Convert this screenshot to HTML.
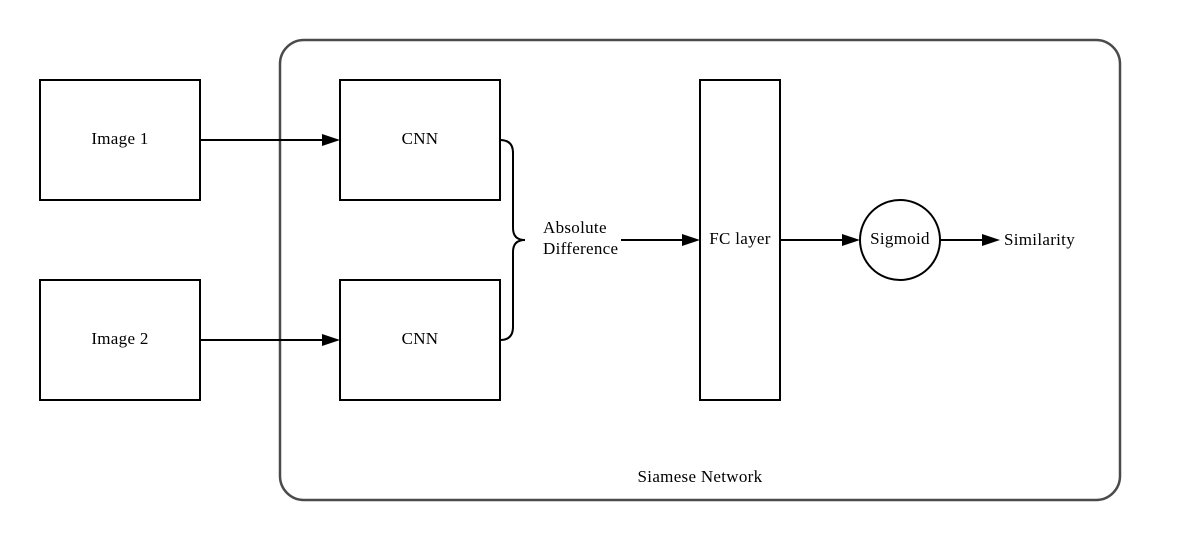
<!DOCTYPE html>
<html><head><style>html,body{margin:0;padding:0;background:#fff}svg{display:block}</style></head>
<body>
<svg width="1200" height="540" viewBox="0 0 1200 540" xmlns="http://www.w3.org/2000/svg" font-family="'Liberation Serif', serif" font-size="17" letter-spacing="0.3" fill="#000">
<rect x="0" y="0" width="1200" height="540" fill="#fff"/>
<rect x="280" y="40" width="840" height="460" rx="24" fill="none" stroke="#4a4a4a" stroke-width="2.5"/>
<g fill="none" stroke="#000" stroke-width="2">
<rect x="40" y="80" width="160" height="120"/>
<rect x="40" y="280" width="160" height="120"/>
<rect x="340" y="80" width="160" height="120"/>
<rect x="340" y="280" width="160" height="120"/>
<rect x="700" y="80" width="80" height="320"/>
<circle cx="900" cy="240" r="40"/>
<path d="M500,140 Q513,140 513,153 L513,228 Q513,240 525,240 Q513,240 513,252 L513,327 Q513,340 500,340"/>
<line x1="200" y1="140" x2="324" y2="140"/>
<line x1="200" y1="340" x2="324" y2="340"/>
<line x1="621" y1="240" x2="684" y2="240"/>
<line x1="780" y1="240" x2="844" y2="240"/>
<line x1="940" y1="240" x2="984" y2="240"/>
</g>
<g fill="#000">
<polygon points="340,140 322,134 322,146"/>
<polygon points="340,340 322,334 322,346"/>
<polygon points="700,240 682,234 682,246"/>
<polygon points="860,240 842,234 842,246"/>
<polygon points="1000,240 982,234 982,246"/>
</g>
<g text-anchor="middle">
<text x="120" y="144">Image 1</text>
<text x="120" y="344">Image 2</text>
<text x="420" y="144">CNN</text>
<text x="420" y="344">CNN</text>
<text x="740" y="244">FC layer</text>
<text x="900" y="244">Sigmoid</text>
<text x="700" y="482">Siamese Network</text>
</g>
<text x="543" y="233">Absolute</text>
<text x="543" y="254">Difference</text>
<text x="1004" y="245">Similarity</text>
</svg>
</body></html>
